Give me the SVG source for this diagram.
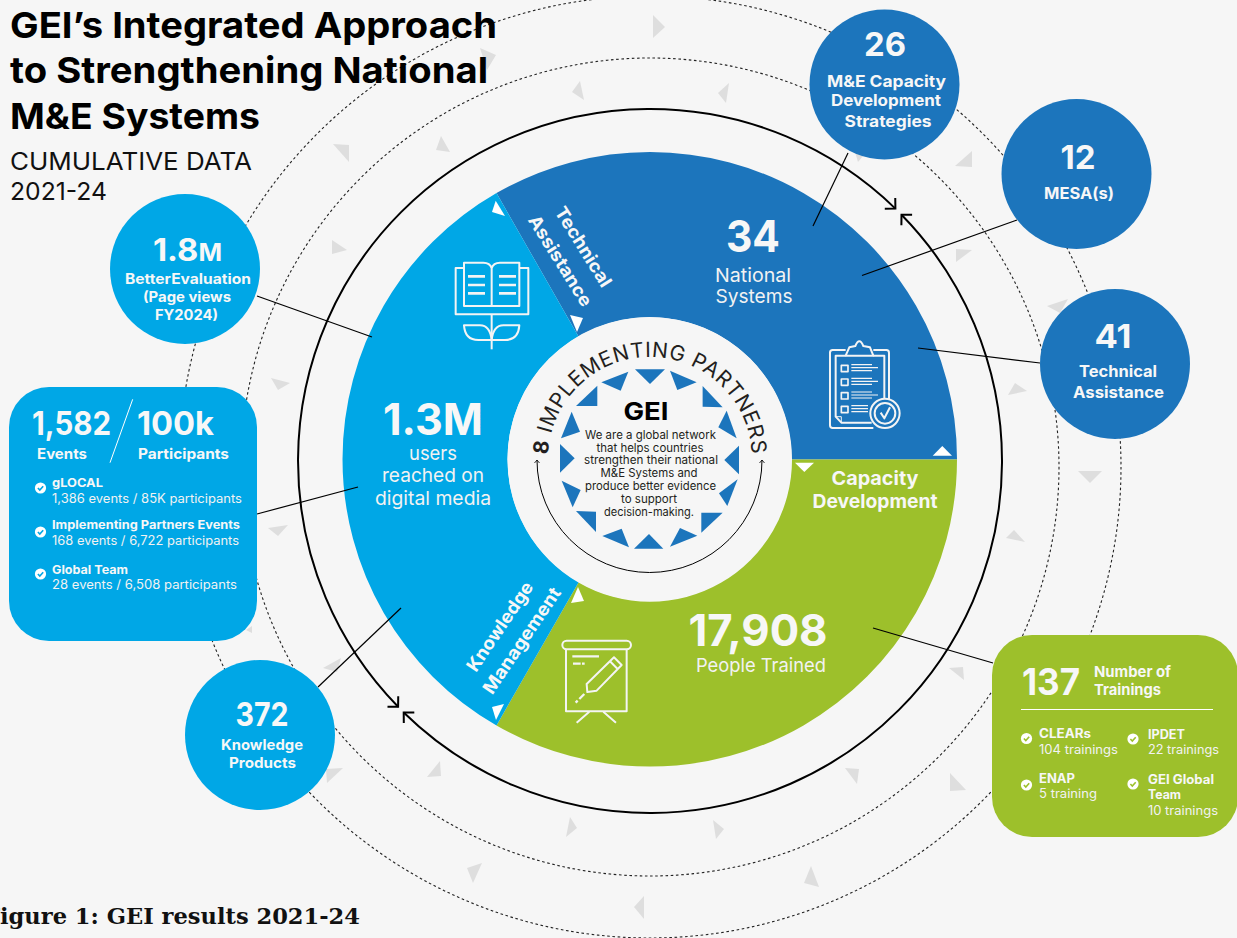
<svg xmlns="http://www.w3.org/2000/svg" width="1237" height="938" viewBox="0 0 1237 938">
<style>
text{font-family:Inter,"Liberation Sans",sans-serif}
.b{font-weight:700;fill:#f7f7f7}
.r{font-weight:400;fill:#f2f2f2}
.k{font-weight:700;fill:#000}
.kr{font-weight:400;fill:#111}
.m{text-anchor:middle}
.dash{fill:none;stroke:#222;stroke-width:1.1;stroke-dasharray:2.6 2.6}
.tri polygon{fill:#dedede}
.lead{stroke:#000;stroke-width:1.2;fill:none}
.wt{fill:#fff}
.ico{fill:none;stroke:#f4f4f4;stroke-width:6;stroke-linejoin:round}
.ink{fill:#1c75bc}
.sky{fill:#00a7e6}
.leaf{fill:#9dc02b}
</style>
<defs>
<marker id="arrow" viewBox="-10 -10 20 20" markerWidth="20" markerHeight="20" markerUnits="userSpaceOnUse" orient="auto-start-reverse"><path d="M-7.5 -7.5L0 0L-7.5 7.5" fill="none" stroke="#000" stroke-width="2"/></marker>
<marker id="small" viewBox="-5 -5 10 10" markerWidth="10" markerHeight="10" markerUnits="userSpaceOnUse" orient="auto-start-reverse"><path d="M-3 -2.5L0 0L-3 2.5" fill="none" stroke="#000" stroke-width="0.8"/></marker>
<g id="chkB"><circle r="5.6" fill="#fff"/><path d="M-2.6 0L-.7 2L2.7 -1.8" fill="none" stroke="#00a7e6" stroke-width="1.6"/></g>
<g id="chkG"><circle r="5.6" fill="#fff"/><path d="M-2.6 0L-.7 2L2.7 -1.8" fill="none" stroke="#9dc02b" stroke-width="1.6"/></g>
</defs>
<rect width="1237" height="938" fill="#f6f6f6"/>

<g id="rings">
<circle class="dash" cx="650" cy="467" r="471"/>
<circle class="dash" cx="650" cy="467" r="409"/>
</g>
<g id="ring-triangles" class="tri">
<polygon points="653,15 665,27 653,38"/><polygon points="480,48 496,55 487,70"/><polygon points="572,92 580,81 584,100"/><polygon points="718,93 729,83 726,103"/><polygon points="333,144 349,145 349,162"/><polygon points="441,136 450,152 436,150"/><polygon points="332,240 347,250 332,254"/><polygon points="972,151 972,167 955,166"/><polygon points="972,250 956,249 956,262"/><polygon points="1047,306 1068,299 1060,313"/><polygon points="1008,395 1015,383 1027,391"/><polygon points="1078,471 1102,471 1090,483"/><polygon points="1006,538 1014,530 1025,542"/><polygon points="855,152 868,150 858,162"/><polygon points="949,668 963,667 964,680"/><polygon points="950,773 966,790 950,791"/><polygon points="845,768 859,769 857,784"/><polygon points="811,866 819,887 804,883"/><polygon points="713,820 724,829 716,839"/><polygon points="570,817 577,828 566,837"/><polygon points="644,896 634,907 644,919"/><polygon points="482,863 467,868 473,883"/><polygon points="440,761 441,776 427,777"/><polygon points="343,768 326,769 327,783"/><polygon points="323,668 341,658 337,672"/><polygon points="271,378 290,383 278,390"/><polygon points="268,528 288,525 278,536"/><polygon points="246,630 252,626 252,633"/>
</g>

<g id="title">
<text class="k" x="10" y="38" font-size="36" textLength="487" lengthAdjust="spacingAndGlyphs">GEI’s Integrated Approach</text>
<text class="k" x="10" y="83" font-size="36" textLength="478" lengthAdjust="spacingAndGlyphs">to Strengthening National</text>
<text class="k" x="10" y="129" font-size="36" textLength="250" lengthAdjust="spacingAndGlyphs">M&amp;E Systems</text>
<text class="kr" x="10" y="170" font-size="24" textLength="242" lengthAdjust="spacingAndGlyphs">CUMULATIVE DATA</text>
<text class="kr" x="10" y="200" font-size="24" textLength="97" lengthAdjust="spacingAndGlyphs">2021-24</text>
</g>

<g id="pie">
<path class="ink" d="M496.5 193.1A307 307 0 0 1 957 459.5L792 459.5A142 142 0 0 0 578.5 336.5Z"/>
<path class="leaf" d="M957 459.5A307 307 0 0 1 496.5 725.4L578.5 582.5A142 142 0 0 0 792 459.5Z"/>
<path class="sky" d="M496.5 193.1L578.5 336.5A142 142 0 0 0 578.5 582.5L496.5 725.4A307 307 0 0 1 496.5 193.1Z"/>
<g class="wt">
<polygon points="495.7,200.7 492,212 505,216"/><polygon points="570,315 583,318 577,332"/><polygon points="932.7,455.7 952,455.7 942.3,446"/><polygon points="795,462.7 814,462.7 804.3,472"/><polygon points="578,587 584,601 571,603"/><polygon points="504,704 492,707 496,720"/>
</g>
</g>

<g id="connectors">
<path d="M398.1 706.8A352 352 0 0 1 401.1 212.1A352 352 0 0 1 895.4 208.6" fill="none" stroke="#000" stroke-width="2" marker-start="url(#arrow)" marker-end="url(#arrow)"/>
<path d="M901.5 214.7A352 352 0 0 1 898.9 709.9A352 352 0 0 1 403.7 712.5" fill="none" stroke="#000" stroke-width="2" marker-start="url(#arrow)" marker-end="url(#arrow)"/>
<path class="lead" d="M848 153L813 226"/>
<path class="lead" d="M1017 220L862 275.5"/>
<path class="lead" d="M1040 363L918 348"/>
<path class="lead" d="M257 296L372 337"/>
<path class="lead" d="M257 514L358 487"/>
<path class="lead" d="M318 687L401 608"/>
<path class="lead" d="M873 628L993 663"/>
</g>

<g id="node-technical-assistance">
<text class="b m" font-size="18" transform="translate(578,250) rotate(58)" textLength="91" lengthAdjust="spacingAndGlyphs">Technical</text>
<text class="b m" font-size="18" transform="translate(555,264) rotate(58)" textLength="104" lengthAdjust="spacingAndGlyphs">Assistance</text>
<text class="b m" x="753" y="252" font-size="44" textLength="54" lengthAdjust="spacingAndGlyphs">34</text>
<text class="r m" x="753" y="282" font-size="19" textLength="76" lengthAdjust="spacingAndGlyphs">National</text>
<text class="r m" x="754" y="303" font-size="19" textLength="77" lengthAdjust="spacingAndGlyphs">Systems</text>
<g class="ico" transform="translate(780,320) scale(.3333)">
<path d="M197 90H158Q150 90 150 98V316Q150 324 158 324H280M280 90H319Q327 90 327 98V240"/>
<path d="M197 107H167V290L184 308H275M280 107H313V240"/>
<path d="M197 107H280L270 82L250 78Q238 50 226 78L208 82Z"/>
<path d="M184 136h20v19h-20zM184 177h20v19h-20zM184 218h20v19h-20zM184 259h20v19h-20z" stroke-width="5"/>
<path d="M214 134h62M214 143h80M214 152h62M214 175h62M214 184h80M214 193h62M214 216h62M214 225h80M214 234h62M214 257h50M214 266h50M214 275h50" stroke-width="3.5"/>
<path d="M167 290h17v18" stroke-width="3"/>
<circle cx="315" cy="280" r="44" fill="#1c75bc"/><circle cx="315" cy="280" r="31"/>
<path d="M302 278L313 295L330 262"/>
</g>
</g>

<g id="node-knowledge-management">
<text class="b m" font-size="18" transform="translate(505,630) rotate(-56)" textLength="104" lengthAdjust="spacingAndGlyphs">Knowledge</text>
<text class="b m" font-size="18" transform="translate(527,644) rotate(-56)" textLength="124" lengthAdjust="spacingAndGlyphs">Management</text>
<text class="b m" x="433" y="435" font-size="44" textLength="100" lengthAdjust="spacingAndGlyphs">1.3M</text>
<text class="r m" x="433" y="460" font-size="19" textLength="48" lengthAdjust="spacingAndGlyphs">users</text>
<text class="r m" x="433" y="482" font-size="19" textLength="102" lengthAdjust="spacingAndGlyphs">reached on</text>
<text class="r m" x="433" y="505" font-size="19" textLength="116" lengthAdjust="spacingAndGlyphs">digital media</text>
<g class="ico" transform="translate(430,180) scale(.3333)">
<path d="M102 264H77V403H295V264H268"/>
<path d="M185 378V265Q180 248 160 248H102V378ZM185 265Q190 248 210 248H268V378H185"/>
<path d="M114 289h51M114 315h51M114 340h51M207 289h51M207 315h51M207 340h51" stroke-width="8"/>
<path d="M185 403V508"/>
<path d="M102 436H150Q180 436 185 480H145Q105 480 102 436ZM268 436H220Q190 436 185 480H225Q265 480 268 436Z"/>
</g>
</g>

<g id="node-capacity-development">
<text class="b m" x="875" y="485" font-size="19" textLength="87" lengthAdjust="spacingAndGlyphs">Capacity</text>
<text class="b m" x="875" y="508" font-size="19" textLength="125" lengthAdjust="spacingAndGlyphs">Development</text>
<text class="b m" x="758" y="646" font-size="44" textLength="139" lengthAdjust="spacingAndGlyphs">17,908</text>
<text class="r m" x="761" y="672" font-size="19" textLength="130" lengthAdjust="spacingAndGlyphs">People Trained</text>
<g class="ico" transform="translate(450,570) scale(.3333)">
<rect x="337" y="212" width="206" height="26" rx="13"/>
<path d="M348 238V424H530V238"/>
<path d="M418 425L380 458M460 425L498 458"/>
<path d="M367 259H447M369 281H392M396 281H404" stroke-width="7"/>
<path d="M410 342L492 262L515 285L440 362L412 366ZM480 274L503 297"/>
<path d="M403 372L388 387M383 392L377 398" stroke-width="7"/>
</g>
</g>

<g id="node-gei">
<circle cx="649.5" cy="459" r="142" fill="#f6f6f6"/>
<path id="arcText" d="M548 459A102 102 0 0 1 752 459" fill="none"/>
<text font-size="21" fill="#231f20" letter-spacing=".7" font-weight="400"><textPath href="#arcText" startOffset="50%" text-anchor="middle"><tspan font-weight="700">8</tspan> IMPLEMENTING PARTNERS</textPath></text>
<path d="M537 460A112.500 112.500 0 0 0 762 460" fill="none" stroke="#000" stroke-width="1" marker-start="url(#small)" marker-end="url(#small)"/>
<g class="ink" transform="translate(500,320) scale(.3333)">
<polygon points="405,148 495,148 450,192"/><polygon points="510,152 590,187 532,210"/><polygon points="608,198 668,262 608,260"/><polygon points="680,272 710,355 655,322"/><polygon points="717,377 717,463 673,420"/><polygon points="713,478 682,558 657,520"/><polygon points="668,578 604,638 604,578"/><polygon points="592,647 510,680 540,624"/><polygon points="490,686 402,686 447,642"/><polygon points="387,682 307,648 365,626"/><polygon points="288,636 228,573 288,575"/><polygon points="218,562 185,482 242,510"/><polygon points="180,458 180,372 224,415"/><polygon points="183,355 215,275 240,335"/><polygon points="228,258 292,197 292,258"/><polygon points="304,187 385,155 362,212"/>
</g>
<text class="k m" x="646" y="420" font-size="24" textLength="45" lengthAdjust="spacingAndGlyphs">GEI</text>
<g font-size="11.5" fill="#231f20" text-anchor="middle">
<text x="650.5" y="439" textLength="131" lengthAdjust="spacingAndGlyphs">We are a global network</text>
<text x="650" y="452" textLength="107" lengthAdjust="spacingAndGlyphs">that helps countries</text>
<text x="651" y="464" textLength="134" lengthAdjust="spacingAndGlyphs">strengthen their national</text>
<text x="649" y="477" textLength="97" lengthAdjust="spacingAndGlyphs">M&amp;E Systems and</text>
<text x="650.5" y="490" textLength="131" lengthAdjust="spacingAndGlyphs">produce better evidence</text>
<text x="649" y="503" textLength="56" lengthAdjust="spacingAndGlyphs">to support</text>
<text x="649" y="516" textLength="90" lengthAdjust="spacingAndGlyphs">decision-making.</text>
</g>
</g>

<g id="node-strategies">
<circle class="ink" cx="884.5" cy="84.5" r="75"/>
<text class="b m" x="885" y="56" font-size="33" textLength="42" lengthAdjust="spacingAndGlyphs">26</text>
<text class="b m" x="886.5" y="87" font-size="16" textLength="119" lengthAdjust="spacingAndGlyphs">M&amp;E Capacity</text>
<text class="b m" x="886" y="106" font-size="16" textLength="110" lengthAdjust="spacingAndGlyphs">Development</text>
<text class="b m" x="888" y="127" font-size="16" textLength="87" lengthAdjust="spacingAndGlyphs">Strategies</text>
</g>
<g id="node-mesa">
<circle class="ink" cx="1076.5" cy="174" r="75"/>
<text class="b m" x="1078" y="169" font-size="33" textLength="35" lengthAdjust="spacingAndGlyphs">12</text>
<text class="b m" x="1079" y="199" font-size="16" textLength="70" lengthAdjust="spacingAndGlyphs">MESA(s)</text>
</g>
<g id="node-ta">
<circle class="ink" cx="1115" cy="364" r="75"/>
<text class="b m" x="1113" y="348" font-size="33" textLength="37" lengthAdjust="spacingAndGlyphs">41</text>
<text class="b m" x="1118" y="377" font-size="16" textLength="78" lengthAdjust="spacingAndGlyphs">Technical</text>
<text class="b m" x="1118.500" y="398" font-size="16" textLength="91" lengthAdjust="spacingAndGlyphs">Assistance</text>
</g>
<g id="node-bettereval">
<circle class="sky" cx="185" cy="269" r="75"/>
<text class="b" x="153" y="261" font-size="31" textLength="69" lengthAdjust="spacingAndGlyphs">1.8<tspan font-size="24">M</tspan></text>
<text class="b m" x="188" y="284" font-size="14" textLength="126" lengthAdjust="spacingAndGlyphs">BetterEvaluation</text>
<text class="b m" x="187" y="302" font-size="14" textLength="88" lengthAdjust="spacingAndGlyphs">(Page views</text>
<text class="b m" x="186.500" y="320" font-size="14" textLength="63" lengthAdjust="spacingAndGlyphs">FY2024)</text>
</g>
<g id="node-products">
<circle class="sky" cx="260" cy="735" r="75"/>
<text class="b m" x="262" y="726" font-size="33" textLength="53" lengthAdjust="spacingAndGlyphs">372</text>
<text class="b m" x="262" y="750" font-size="14.500" textLength="82" lengthAdjust="spacingAndGlyphs">Knowledge</text>
<text class="b m" x="262.500" y="768" font-size="14.500" textLength="67" lengthAdjust="spacingAndGlyphs">Products</text>
</g>

<g id="node-events">
<rect class="sky" x="9" y="387" width="248" height="254" rx="40"/>
<text class="b" x="32" y="435" font-size="32" textLength="79" lengthAdjust="spacingAndGlyphs">1,582</text>
<text class="b" x="137" y="435" font-size="32" textLength="77" lengthAdjust="spacingAndGlyphs">100k</text>
<path d="M132.700 399.300L110 462.700" stroke="#fff" stroke-width="1"/>
<text class="b" x="37" y="459" font-size="14.500" textLength="50" lengthAdjust="spacingAndGlyphs">Events</text>
<text class="b" x="138" y="459" font-size="14.500" textLength="91" lengthAdjust="spacingAndGlyphs">Participants</text>
<use href="#chkB" x="40.500" y="488"/><use href="#chkB" x="40.500" y="532"/><use href="#chkB" x="40.500" y="574"/>
<text class="b" x="52" y="487" font-size="12" textLength="51" lengthAdjust="spacingAndGlyphs">gLOCAL</text>
<text class="r" x="52" y="503" font-size="12.500" textLength="190" lengthAdjust="spacingAndGlyphs">1,386 events / 85K participants</text>
<text class="b" x="52" y="529" font-size="12" textLength="188" lengthAdjust="spacingAndGlyphs">Implementing Partners Events</text>
<text class="r" x="52" y="545" font-size="12.500" textLength="187" lengthAdjust="spacingAndGlyphs">168 events / 6,722 participants</text>
<text class="b" x="52" y="574" font-size="12" textLength="76" lengthAdjust="spacingAndGlyphs">Global Team</text>
<text class="r" x="52" y="589" font-size="12.500" textLength="185" lengthAdjust="spacingAndGlyphs">28 events / 6,508 participants</text>
</g>

<g id="node-trainings">
<rect class="leaf" x="992" y="635" width="246" height="202" rx="40"/>
<text class="b" x="1022" y="695" font-size="37" textLength="58" lengthAdjust="spacingAndGlyphs">137</text>
<text class="b" x="1094" y="677" font-size="15" textLength="77" lengthAdjust="spacingAndGlyphs">Number of</text>
<text class="b" x="1094" y="695" font-size="15" textLength="67" lengthAdjust="spacingAndGlyphs">Trainings</text>
<path d="M1021 709.500H1213" stroke="#fff" stroke-width="1"/>
<use href="#chkG" x="1026.500" y="738.500"/><use href="#chkG" x="1133" y="739"/><use href="#chkG" x="1026.500" y="785"/><use href="#chkG" x="1133" y="784"/>
<text class="b" x="1039" y="738" font-size="12.500" textLength="52" lengthAdjust="spacingAndGlyphs">CLEARs</text>
<text class="r" x="1039" y="754" font-size="12.500" textLength="79" lengthAdjust="spacingAndGlyphs">104 trainings</text>
<text class="b" x="1148" y="739" font-size="12.500" textLength="37" lengthAdjust="spacingAndGlyphs">IPDET</text>
<text class="r" x="1148" y="754" font-size="12.500" textLength="71" lengthAdjust="spacingAndGlyphs">22 trainings</text>
<text class="b" x="1039" y="783" font-size="12.500" textLength="36" lengthAdjust="spacingAndGlyphs">ENAP</text>
<text class="r" x="1039" y="798" font-size="12.500" textLength="58" lengthAdjust="spacingAndGlyphs">5 training</text>
<text class="b" x="1148" y="784" font-size="12.500" textLength="66" lengthAdjust="spacingAndGlyphs">GEI Global</text>
<text class="b" x="1148" y="799" font-size="12.500" textLength="33" lengthAdjust="spacingAndGlyphs">Team</text>
<text class="r" x="1148" y="815" font-size="12.500" textLength="70" lengthAdjust="spacingAndGlyphs">10 trainings</text>
</g>

<text id="caption" x="-16" y="924" font-size="23" font-weight="700" fill="#111" style="font-family:'DejaVu Serif',serif" textLength="376" lengthAdjust="spacingAndGlyphs">Figure 1: GEI results 2021-24</text>
</svg>
